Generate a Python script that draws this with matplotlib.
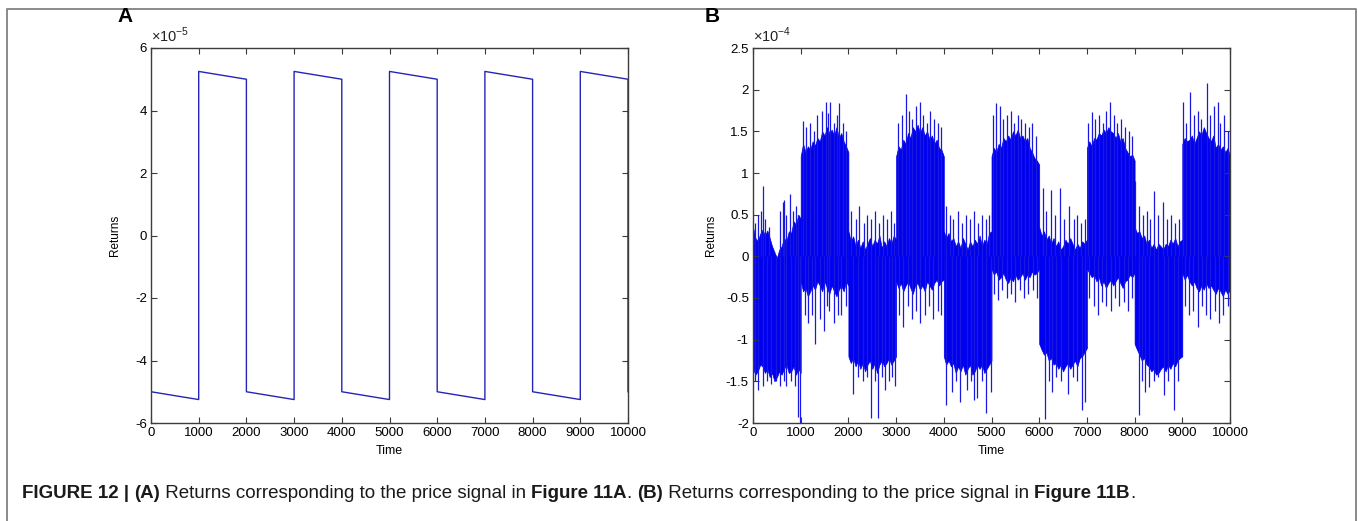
import numpy as np
import matplotlib
matplotlib.use("Agg")
import matplotlib.pyplot as plt
from matplotlib.lines import Line2D

plt.rcParams['axes.unicode_minus'] = False
plt.rcParams['mathtext.fontset'] = 'custom'
plt.rcParams['mathtext.rm'] = 'Liberation Sans'

NARROW = ['Liberation Sans Narrow', 'Liberation Sans', 'DejaVu Sans']
WIDE = ['Liberation Sans', 'DejaVu Sans']

# ---------------- panel A : square-wave returns (x 1e-5) ----------------
a_edges = [0, 1000, 2000, 3000, 4000, 5000, 6000, 7000, 8000, 9000, 10000]
a_start = [-5.0, 5.25, -5.0, 5.25, -5.0, 5.25, -5.0, 5.25, -5.0, 5.25]
a_end = [-5.25, 5.0, -5.25, 5.0, -5.25, 5.0, -5.25, 5.0, -5.25, 5.0]
a_final = -5.0

# ---------------- panel B : noisy returns (x 1e-4) ----------------
b_edges = [0, 1000, 2000, 3000, 4000, 5000, 6000, 7000, 8000, 9000, 10000]
b_step = 50  # band edge sampled every 50 time steps inside a block
b_upper = [
    [0.35, 0.22, 0.18, 0.27, 0.32, 0.25, 0.31, 0.22, 0.12, 0.05, -0.02, 0.08, 0.12, 0.22, 0.18, 0.3, 0.28, 0.42, 0.38, 0.5, 0.45],
    [1.2, 1.35, 1.25, 1.32, 1.28, 1.38, 1.33, 1.42, 1.38, 1.5, 1.45, 1.55, 1.48, 1.52, 1.45, 1.55, 1.42, 1.48, 1.38, 1.32, 1.25],
    [0.3, 0.18, 0.24, 0.12, 0.2, 0.1, 0.18, 0.08, 0.15, 0.22, 0.12, 0.2, 0.15, 0.25, 0.1, 0.18, 0.12, 0.22, 0.15, 0.25, 0.2],
    [1.2, 1.32, 1.28, 1.4, 1.35, 1.48, 1.42, 1.55, 1.5, 1.58, 1.48, 1.55, 1.45, 1.5, 1.4, 1.45, 1.35, 1.4, 1.3, 1.28, 1.2],
    [0.3, 0.22, 0.28, 0.18, 0.22, 0.12, 0.18, 0.1, 0.22, 0.15, 0.08, 0.18, 0.12, 0.2, 0.15, 0.25, 0.12, 0.2, 0.15, 0.28, 0.3],
    [1.2, 1.3, 1.25, 1.35, 1.3, 1.42, 1.38, 1.45, 1.4, 1.5, 1.45, 1.52, 1.42, 1.45, 1.38, 1.42, 1.3, 1.25, 1.18, 1.15, 1.1],
    [0.35, 0.25, 0.3, 0.2, 0.25, 0.15, 0.22, 0.12, 0.18, 0.08, 0.12, 0.2, 0.15, 0.22, 0.15, 0.08, 0.15, 0.1, 0.18, 0.15, 0.2],
    [1.3, 1.38, 1.32, 1.42, 1.4, 1.48, 1.45, 1.52, 1.48, 1.55, 1.5, 1.48, 1.42, 1.48, 1.38, 1.42, 1.3, 1.25, 1.2, 1.22, 1.15],
    [0.35, 0.28, 0.3, 0.22, 0.25, 0.15, 0.2, 0.1, 0.15, 0.08, 0.15, 0.12, 0.08, 0.15, 0.12, 0.2, 0.15, 0.22, 0.12, 0.18, 0.2],
    [1.35, 1.42, 1.38, 1.4, 1.45, 1.35, 1.42, 1.5, 1.45, 1.55, 1.48, 1.42, 1.38, 1.45, 1.3, 1.35, 1.28, 1.32, 1.25, 1.3, 1.2],
]
b_lower = [
    [-1.35, -1.42, -1.38, -1.3, -1.32, -1.4, -1.35, -1.45, -1.4, -1.5, -1.45, -1.38, -1.42, -1.35, -1.3, -1.4, -1.38, -1.32, -1.42, -1.35, -1.4],
    [-0.3, -0.42, -0.38, -0.48, -0.42, -0.35, -0.4, -0.3, -0.35, -0.42, -0.3, -0.38, -0.45, -0.35, -0.42, -0.48, -0.4, -0.35, -0.42, -0.3, -0.35],
    [-1.2, -1.28, -1.22, -1.32, -1.25, -1.35, -1.28, -1.38, -1.3, -1.25, -1.35, -1.28, -1.4, -1.3, -1.25, -1.32, -1.28, -1.22, -1.3, -1.25, -1.2],
    [-0.3, -0.38, -0.32, -0.42, -0.35, -0.3, -0.38, -0.45, -0.35, -0.32, -0.4, -0.35, -0.42, -0.3, -0.35, -0.4, -0.32, -0.28, -0.35, -0.3, -0.28],
    [-1.2, -1.3, -1.25, -1.32, -1.28, -1.4, -1.32, -1.38, -1.3, -1.42, -1.35, -1.3, -1.42, -1.38, -1.3, -1.35, -1.3, -1.4, -1.35, -1.3, -1.25],
    [-0.15, -0.22, -0.18, -0.28, -0.25, -0.2, -0.28, -0.32, -0.25, -0.3, -0.22, -0.28, -0.25, -0.2, -0.28, -0.22, -0.25, -0.18, -0.22, -0.2, -0.15],
    [-1.05, -1.12, -1.18, -1.15, -1.25, -1.22, -1.3, -1.28, -1.35, -1.3, -1.38, -1.32, -1.28, -1.35, -1.3, -1.25, -1.32, -1.22, -1.2, -1.15, -1.1],
    [-0.15, -0.2, -0.25, -0.22, -0.3, -0.25, -0.35, -0.3, -0.38, -0.32, -0.28, -0.35, -0.3, -0.25, -0.32, -0.38, -0.3, -0.28, -0.22, -0.25, -0.2],
    [-1.05, -1.12, -1.18, -1.25, -1.22, -1.3, -1.32, -1.38, -1.35, -1.42, -1.4, -1.35, -1.32, -1.38, -1.3, -1.35, -1.28, -1.32, -1.25, -1.22, -1.2],
    [-0.2, -0.28, -0.22, -0.3, -0.35, -0.3, -0.38, -0.42, -0.35, -0.4, -0.32, -0.38, -0.35, -0.4, -0.45, -0.38, -0.42, -0.48, -0.4, -0.45, -0.4],
]
b_final = -1.37

# isolated spikes poking out of the dense band
b_up_t = [40, 110, 160, 210, 260, 330, 560, 620, 660, 700, 770, 830, 900, 950,
          1050, 1120, 1200, 1280, 1350, 1450, 1530, 1570, 1620, 1700, 1760, 1800, 1880, 1950,
          2060, 2150, 2230, 2320, 2400, 2480, 2560, 2650, 2730, 2810, 2900, 2960,
          3050, 3120, 3200, 3260, 3330, 3420, 3500, 3560, 3640, 3720, 3800, 3880, 3950,
          4050, 4120, 4200, 4290, 4380, 4460, 4550, 4630, 4720, 4800, 4880, 4950,
          5040, 5100, 5180, 5250, 5330, 5400, 5480, 5550, 5620, 5700, 5780, 5850, 5930,
          6085, 6150, 6240, 6330, 6442, 6520, 6631, 6720, 6800, 6880, 6950,
          7025, 7100, 7180, 7250, 7330, 7410, 7480, 7560, 7640, 7720, 7800, 7880, 7950,
          8011, 8100, 8180, 8260, 8330, 8410, 8500, 8585, 8680, 8760, 8850, 8940,
          9005, 9080, 9161, 9240, 9320, 9400, 9510, 9580, 9660, 9740, 9800, 9880, 9950]
b_up_v = [0.4, 0.5, 0.55, 0.85, 0.45, 0.35, 0.55, 0.65, 0.68, 0.5, 0.75, 0.55, 0.6, 0.5,
          1.62, 1.55, 1.6, 1.5, 1.7, 1.75, 1.85, 1.72, 1.85, 1.6, 1.7, 1.84, 1.6, 1.5,
          0.55, 0.45, 0.6, 0.4, 0.5, 0.45, 0.55, 0.4, 0.5, 0.45, 0.55, 0.4,
          1.6, 1.7, 1.95, 1.75, 1.65, 1.8, 1.85, 1.7, 1.6, 1.75, 1.65, 1.6, 1.55,
          0.6, 0.5, 0.45, 0.55, 0.4, 0.5, 0.45, 0.55, 0.4, 0.5, 0.45, 0.5,
          1.7, 1.84, 1.8, 1.65, 1.7, 1.75, 1.6, 1.7, 1.65, 1.6, 1.55, 1.6, 1.45,
          0.82, 0.55, 0.8, 0.5, 0.82, 0.45, 0.6, 0.45, 0.5, 0.4, 0.45,
          1.6, 1.73, 1.65, 1.7, 1.6, 1.75, 1.85, 1.7, 1.6, 1.65, 1.55, 1.5, 1.45,
          0.91, 0.6, 0.5, 0.55, 0.45, 0.78, 0.5, 0.65, 0.45, 0.5, 0.4, 0.45,
          1.85, 1.6, 1.97, 1.7, 1.75, 1.65, 2.08, 1.7, 1.8, 1.85, 1.6, 1.7, 1.5]
b_dn_t = [50, 109, 200, 300, 381, 480, 560, 640, 699, 800, 880, 953, 985,
          1080, 1150, 1230, 1300, 1400, 1480, 1550, 1600, 1700, 1780, 1850, 1950,
          2105, 2200, 2300, 2400, 2468, 2550, 2623, 2700, 2759, 2850, 2920, 2985,
          3060, 3150, 3240, 3330, 3420, 3510, 3600, 3700, 3780, 3870, 3950,
          4056, 4174, 4260, 4347, 4483, 4560, 4628, 4700, 4800, 4882, 4991,
          5050, 5140, 5230, 5320, 5410, 5500, 5590, 5680, 5770, 5860, 5950,
          6125, 6200, 6261, 6350, 6450, 6597, 6700, 6800, 6887, 6969,
          7050, 7140, 7230, 7320, 7410, 7500, 7590, 7680, 7770, 7860, 7950,
          8094, 8150, 8212, 8294, 8400, 8500, 8620, 8700, 8820, 8920,
          9050, 9140, 9230, 9320, 9410, 9500, 9590, 9680, 9770, 9860, 9950]
b_dn_v = [-1.5, -1.6, -1.55, -1.5, -1.53, -1.5, -1.55, -1.5, -1.55, -1.5, -1.55, -1.93, -2.0,
          -0.7, -0.8, -0.7, -1.05, -0.75, -0.9, -0.6, -0.65, -0.8, -0.7, -0.7, -0.6,
          -1.65, -1.45, -1.5, -1.45, -1.94, -1.5, -1.94, -1.45, -1.6, -1.5, -1.45, -1.55,
          -0.7, -0.85, -0.6, -0.75, -0.65, -0.8, -0.7, -0.6, -0.75, -0.65, -0.7,
          -1.785, -1.625, -1.5, -1.745, -1.605, -1.5, -1.725, -1.7, -1.5, -1.885, -1.625,
          -0.45, -0.52, -0.4, -0.5, -0.45, -0.55, -0.4, -0.5, -0.45, -0.4, -0.5,
          -1.957, -1.5, -1.625, -1.45, -1.5, -1.65, -1.45, -1.5, -1.845, -1.745,
          -0.5, -0.6, -0.7, -0.55, -0.6, -0.65, -0.5, -0.6, -0.55, -0.65, -0.5,
          -1.9, -1.5, -1.625, -1.565, -1.5, -1.45, -1.665, -1.5, -1.845, -1.5,
          -0.6, -0.7, -0.65, -0.85, -0.6, -0.7, -0.75, -0.65, -0.8, -0.7, -0.6]

BLUE_A = '#2525b5'
BLUE_B = '#0000f0'
BLUE_SPIKE = '#1818e0'
FRAME = '#3c3c3c'


def style_axes(ax):
    for sp in ax.spines.values():
        sp.set_color(FRAME)
        sp.set_linewidth(1.0)
    ax.tick_params(direction='in', length=4, width=0.8, color=FRAME,
                   top=True, right=True, labelsize=9.5, pad=3)
    for lab in ax.get_xticklabels() + ax.get_yticklabels():
        lab.set_family(NARROW)
    ax.set_xlim(0, 10000)
    ax.set_xticks(range(0, 10001, 1000))
    ax.set_xlabel('Time', family=NARROW, fontsize=9, labelpad=4)
    ax.set_ylabel('Returns', family=NARROW, fontsize=8.5)


fig = plt.figure(figsize=(13.58, 5.21), dpi=100)
W, H = 1358.0, 521.0

ax_a = fig.add_axes([151 / W, 98 / H, 477 / W, 375 / H])
ax_b = fig.add_axes([753 / W, 98 / H, 477 / W, 375 / H])

# panel A
xa, ya = [], []
for i in range(len(a_start)):
    xa += [a_edges[i], a_edges[i + 1]]
    ya += [a_start[i], a_end[i]]
xa.append(a_edges[-1])
ya.append(a_final)
ax_a.plot(xa, ya, color=BLUE_A, lw=1.0)
ax_a.set_ylim(-6, 6)
ax_a.set_yticks(range(-6, 7, 2))
style_axes(ax_a)
ax_a.yaxis.set_label_coords(-0.062, 0.5)

# panel B: dense band per block, then the spikes on top
for i in range(len(b_upper)):
    tt = np.arange(b_edges[i], b_edges[i + 1] + 1, b_step)
    ax_b.fill_between(tt, b_lower[i], b_upper[i], color=BLUE_B, lw=0.5,
                      edgecolor=BLUE_B)
ax_b.vlines(b_up_t, 0, b_up_v, color=BLUE_SPIKE, lw=0.9)
ax_b.vlines(b_dn_t, 0, b_dn_v, color=BLUE_SPIKE, lw=0.9)
ax_b.vlines([b_edges[-1]], b_final, 0.5, color=BLUE_SPIKE, lw=0.9)
ax_b.set_ylim(-2, 2.5)
ax_b.set_yticks(np.arange(-2, 2.51, 0.5))
ax_b.yaxis.set_major_formatter(plt.FuncFormatter(lambda v, p: f'{v:g}'))
style_axes(ax_b)
ax_b.yaxis.set_label_coords(-0.075, 0.5)

# exponent markers above the y axes
ax_a.text(0.0, 1.016, r'$\times10^{-5}$', transform=ax_a.transAxes,
          fontsize=10.5, color='#222222', ha='left', va='baseline')
ax_b.text(0.0, 1.016, r'$\times10^{-4}$', transform=ax_b.transAxes,
          fontsize=10.5, color='#222222', ha='left', va='baseline')

# panel letters
fig.text(125 / W, 1 - 17 / H, 'A', family=WIDE, weight='bold', fontsize=15,
         ha='center', va='center')
fig.text(712 / W, 1 - 17 / H, 'B', family=WIDE, weight='bold', fontsize=15,
         ha='center', va='center')

# outer frame (open at the bottom)
fx0, fx1, fy1 = 7 / W, 1356 / W, 1 - 9 / H
fig.add_artist(Line2D([fx0, fx0, fx1, fx1], [0, fy1, fy1, 0],
                      transform=fig.transFigure, color='#8a8a8a', lw=1.4))

# caption with bold runs
caption = [
    ('FIGURE 12 | ', 'bold'), ('(A)', 'bold'),
    (' Returns corresponding to the price signal in ', 'normal'),
    ('Figure 11A', 'bold'), ('. ', 'normal'), ('(B)', 'bold'),
    (' Returns corresponding to the price signal in ', 'normal'),
    ('Figure 11B', 'bold'), ('.', 'normal'),
]
renderer = fig.canvas.get_renderer()
x = 22 / W
y = 1 - 493 / H
for txt, wt in caption:
    t = fig.text(x, y, txt, family=WIDE, weight=wt, fontsize=13.5,
                 ha='left', va='center', color='#1a1a1a')
    bb = t.get_window_extent(renderer=renderer)
    x += bb.width / W

fig.savefig('out.png', dpi=100)
